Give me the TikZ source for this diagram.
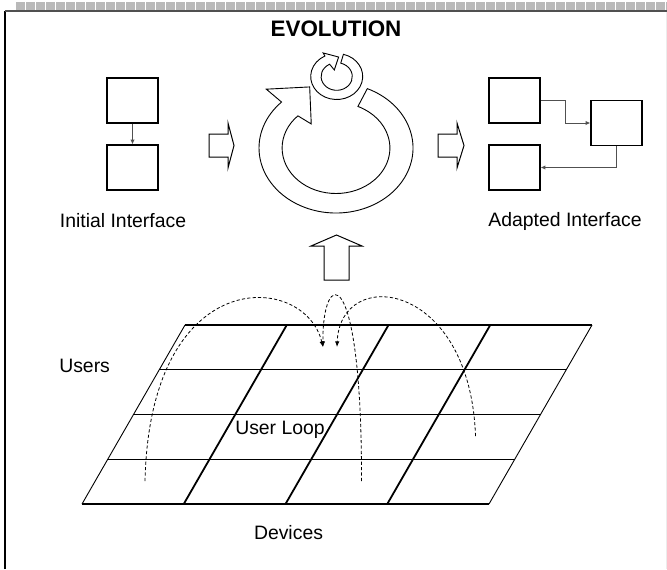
\documentclass[tikz,border=0pt]{standalone}
\usepackage{fontspec}
\setmainfont{Liberation Sans}
\usetikzlibrary{arrows.meta,positioning}
\definecolor{Band}{HTML}{B9B9B9}
\definecolor{Wire}{HTML}{505050}

\begin{document}
\begin{tikzpicture}[x=0.5pt,y=-0.5pt,font=\fontsize{9.7}{11}\selectfont,
    box/.style={draw,line width=0.6pt,minimum width=25.5pt,minimum height=22.5pt,inner sep=0pt},
    wire/.style={Wire,line width=0.45pt,-{Latex[length=2.4pt,width=2.2pt]}},
    blockarrow/.style={draw,line width=0.5pt,fill=white},
    ring/.style={draw,line width=0.45pt,fill=white},
    loopline/.style={line width=0.4pt,dash pattern=on 1.6pt off 1.1pt,-{Latex[length=2.8pt,width=2.2pt]}}]
  \useasboundingbox (0,0) rectangle (667,569);

  % page frame, shaded strip along the top
  \fill[Band] (15,2) rectangle (667,10);
  \foreach \x in {15,25,...,665} \draw[white,line width=0.3pt] (\x,2) -- (\x,10);
  \draw[gray!15] (666,11) -- (666,569);
  \draw[line width=0.8pt] (5,569) -- (5,11);
  \draw[Wire,line width=0.8pt] (5,11) -- (667,11);

  \node[font=\fontsize{11.2}{13}\selectfont\bfseries] (title) at (336,29) {EVOLUTION};

  % interface before
  \node[box] (inittop) at (132.5,100.5) {};
  \node[box,below=10.4pt of inittop] (initbot) {};
  \draw[wire] (inittop) -- (initbot);
  \node (initlabel) at (123,221) {Initial Interface};

  % interface after
  \node[box] (adapttop) at (514.5,100.5) {};
  \node[box,below=10.4pt of adapttop] (adaptbot) {};
  \node[box] (adaptmid) at (616.5,123) {};
  \draw[wire] (adapttop.east) -- ++(25,0) |- (adaptmid.west);
  \draw[wire] (adaptmid.south) |- (adaptbot.east);
  \node (adaptlabel) at (565,221) {Adapted Interface};

  % block arrows
  \draw[blockarrow] (209,134) -- (228,134) -- (228,123) -- (234,145.5) -- (228,168) -- (228,157) -- (209,157) -- cycle;
  \draw[blockarrow] (438,134) -- (457,134) -- (457,123) -- (464,145.5) -- (457,168) -- (457,157) -- (438,157) -- cycle;
  \draw[blockarrow] (324,280) -- (324,246) -- (311,246) -- (336.5,235) -- (362,246) -- (349,246) -- (349,280) -- cycle;

  % big cycle
  \begin{scope}[shift={(336,148)},xscale=77,yscale=-65]
    \draw[ring] (66:1) arc[start angle=66,end angle=-225,radius=1] -- (135:1.28) -- (110:1) -- (131:0.49) -- (135:0.7)
      arc[start angle=-225,end angle=66,radius=0.7] -- cycle;
  \end{scope}
  % small cycle
  \begin{scope}[shift={(336.7,76.5)},xscale=26,yscale=-23]
    \draw[ring] (75:1) arc[start angle=75,end angle=-243,radius=1] -- (117:1.15) -- (85:0.85) -- (108:0.3) -- (117:0.6)
      arc[start angle=-243,end angle=75,radius=0.6] -- cycle;
  \end{scope}

  % users x devices grid
  \foreach \r in {0,...,4}
    \draw[line width=0.6pt] (82+25.75*\r,504-44.75*\r) -- ++(407,0);
  \foreach \c in {0,4}
    \draw[line width=0.45pt] (82+101.75*\c,504) -- (185+101.75*\c,325);
  \foreach \c in {1,2,3}
    \draw[line width=0.9pt] (82+101.75*\c,504) -- (185+101.75*\c,325);

  \node (users) at (84.6,366) {Users};
  \node (userloop) at (280,430) {User Loop};
  \node (devices) at (288.5,533) {Devices};

  % user loops
  \coordinate (starta) at (145,481);
  \coordinate (startb) at (361.5,481);
  \coordinate (startc) at (475.5,436);
  \coordinate (tipl) at (323,347);
  \coordinate (tipr) at (337,347);
  \draw[loopline] (starta) .. controls (150,262) and (305,272) .. (tipl);
  \draw[loopline] (startb) .. controls (362,258) and (322,268) .. (tipl);
  \draw[loopline] (startc) .. controls (470,280) and (340,265) .. (tipr);
\end{tikzpicture}
\end{document}
